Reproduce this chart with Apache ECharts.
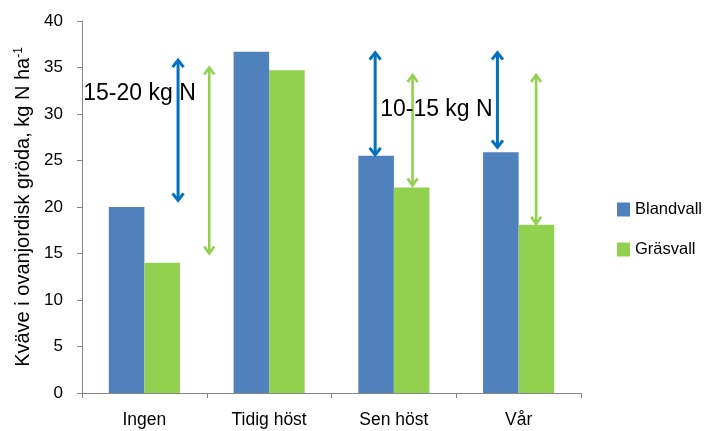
<!DOCTYPE html>
<html>
<head>
<meta charset="utf-8">
<script src="https://cdn.jsdelivr.net/npm/echarts@6/dist/echarts.min.js"></script>
<style>html,body{margin:0;padding:0;background:#fff;}#chart{width:705px;height:431px;}</style>
</head>
<body>
<div id="chart"></div>
<script>
const categories = ['Ingen', 'Tidig höst', 'Sen höst', 'Vår'];
const blandvall = [20.0, 36.7, 25.5, 25.9];
const grasvall = [14.0, 34.7, 22.1, 18.1];
const yTicks = { min: 0, max: 40, interval: 5 };

// Double-headed arrows: category index, offset within category (fraction of band), top and bottom values, group
const arrowCat = [0, 0, 2, 2, 3, 3];
const arrowOffset = [0.27, 0.52, -0.15, 0.15, -0.17, 0.14];
const arrowTop = [35.9, 35.1, 36.7, 34.3, 36.7, 34.3];
const arrowBottom = [20.6, 14.9, 25.5, 22.2, 26.3, 18.1];
const arrowGroup = [0, 1, 0, 1, 0, 1];

// Text notes
const noteText = ['15-20 kg N', '10-15 kg N'];
const noteCat = [0, 2];
const noteOffset = [-0.49, -0.11];
const noteY = [32.2, 30.5];

const arrowColors = ['#0070C0', '#92D050'];
const arrowWidths = [3, 2.6];

const arrowData = arrowCat.map((c, i) => [c, arrowTop[i], arrowBottom[i], arrowOffset[i], arrowGroup[i]]);
const noteData = noteCat.map((c, i) => [c, noteY[i], noteOffset[i], i]);

const chart = echarts.init(document.getElementById('chart'), null, { renderer: 'canvas' });
chart.setOption({
  animation: false,
  backgroundColor: '#fff',
  grid: { left: 82, right: 124, top: 21, bottom: 38, containLabel: false },
  legend: {
    data: ['Blandvall', 'Gräsvall'],
    orient: 'vertical',
    left: 612, top: 196,
    itemWidth: 13, itemHeight: 14, itemGap: 23,
    icon: 'rect',
    textStyle: { fontFamily: 'Liberation Sans', fontSize: 16.5, color: '#000', lineHeight: 14 }
  },
  xAxis: {
    type: 'category',
    data: categories,
    axisLine: { lineStyle: { color: '#868686', width: 1 } },
    axisTick: { show: true, length: 5, lineStyle: { color: '#868686' } },
    axisLabel: { fontFamily: 'Liberation Sans', fontSize: 17.5, color: '#000', margin: 18 }
  },
  yAxis: {
    type: 'value',
    min: yTicks.min, max: yTicks.max, interval: yTicks.interval,
    splitLine: { show: false },
    axisLine: { show: true, lineStyle: { color: '#868686', width: 1 } },
    axisTick: { show: true, length: 5, lineStyle: { color: '#868686' } },
    axisLabel: { fontFamily: 'Liberation Sans', fontSize: 17, color: '#000', margin: 19 },
    name: 'Kväve i ovanjordisk gröda, kg N ha{sup|-1}',
    nameLocation: 'middle',
    nameRotate: 90,
    nameGap: 40,
    nameTextStyle: {
      fontFamily: 'Liberation Sans', fontSize: 20, color: '#000',
      rich: { sup: { fontFamily: 'Liberation Sans', fontSize: 12, color: '#000', verticalAlign: 'top', padding: [0, 0, 10, 0] } }
    }
  },
  series: [
    { name: 'Blandvall', type: 'bar', data: blandvall, barGap: '0%', barCategoryGap: '43%', itemStyle: { color: '#4F81BD' } },
    { name: 'Gräsvall', type: 'bar', data: grasvall, barGap: '0%', barCategoryGap: '43%', itemStyle: { color: '#92D050' } },
    {
      name: 'arrows', type: 'custom', data: arrowData, clip: false, z: 5,
      encode: { x: 0, y: [1, 2] },
      renderItem: function (params, api) {
        const band = api.size([1, 0])[0];
        const x = api.coord([api.value(0), 0])[0] + api.value(3) * band;
        const yT = api.coord([api.value(0), api.value(1)])[1];
        const yB = api.coord([api.value(0), api.value(2)])[1];
        const g = api.value(4);
        const color = arrowColors[g];
        const w = arrowWidths[g];
        const hw = g === 0 ? 5.5 : 5, hh = 8;
        const style = { stroke: color, lineWidth: w, fill: null };
        return {
          type: 'group',
          children: [
            { type: 'line', shape: { x1: x, y1: yT + 1, x2: x, y2: yB - 1 }, style: style },
            { type: 'polyline', shape: { points: [[x - hw, yT + hh], [x, yT + 1], [x + hw, yT + hh]] }, style: style },
            { type: 'polyline', shape: { points: [[x - hw, yB - hh], [x, yB - 1], [x + hw, yB - hh]] }, style: style }
          ]
        };
      }
    },
    {
      name: 'notes', type: 'custom', data: noteData, clip: false, z: 6,
      encode: { x: 0, y: 1 },
      renderItem: function (params, api) {
        const band = api.size([1, 0])[0];
        const x = api.coord([api.value(0), 0])[0] + api.value(2) * band;
        const y = api.coord([api.value(0), api.value(1)])[1];
        return {
          type: 'text',
          style: {
            x: x, y: y, text: noteText[api.value(3)],
            fontFamily: 'Liberation Sans', fontSize: 23, fill: '#000',
            textAlign: 'left', textVerticalAlign: 'middle'
          }
        };
      }
    }
  ]
});
</script>
</body>
</html>
